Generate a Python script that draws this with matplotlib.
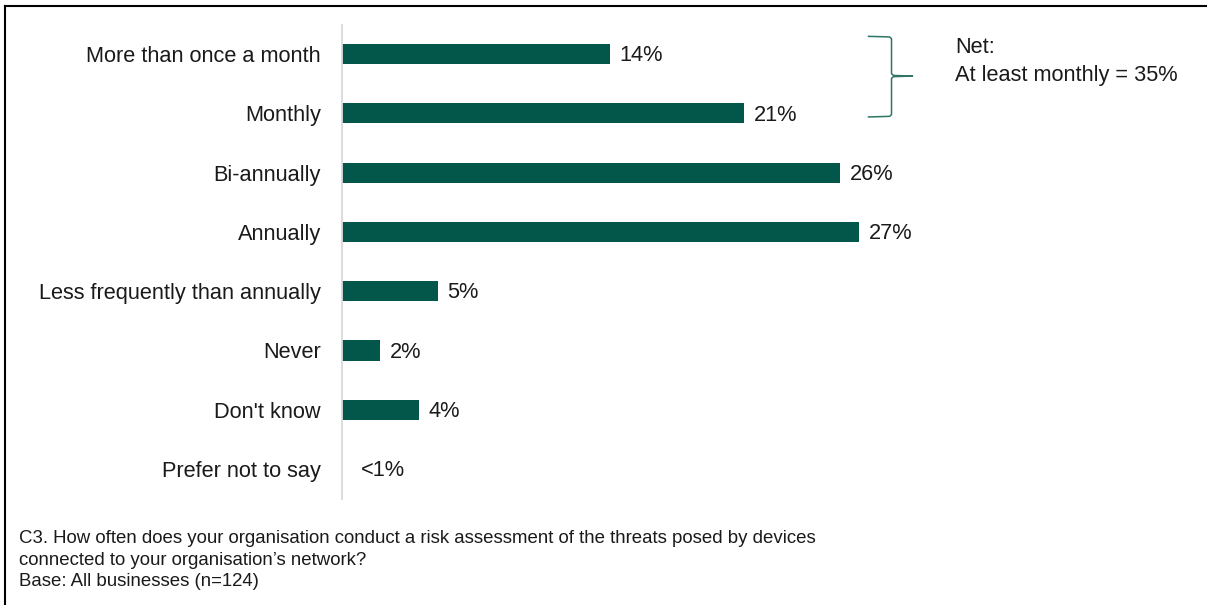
import matplotlib.pyplot as plt
from matplotlib.lines import Line2D

# data
categories = ["More than once a month", "Monthly", "Bi-annually", "Annually",
              "Less frequently than annually", "Never", "Don't know", "Prefer not to say"]
values = [14, 21, 26, 27, 5, 2, 4, 0]
value_labels = ["14%", "21%", "26%", "27%", "5%", "2%", "4%", "<1%"]
net_text = "Net:\nAt least monthly = 35%"
footnote = ("C3. How often does your organisation conduct a risk assessment of the threats posed by devices\n"
            "connected to your organisation\u2019s network?\n"
            "Base: All businesses (n=124)")

plt.rcParams['font.family'] = ['Liberation Sans', 'DejaVu Sans']
bar_color = "#03574A"

fig = plt.figure(figsize=(12.07, 6.05), dpi=100)
ax = fig.add_axes([0.2833, 0.1759, 0.6346, 0.7836])

y = list(range(len(categories)))
ax.barh(y, values, height=0.34, color=bar_color)
for yi, v, lab in zip(y, values, value_labels):
    x = max(v, 0.5)
    ax.text(x + 0.5, yi + 0.03, lab, va="center", ha="left", fontsize=15.7, color="#1a1a1a")

ax.set_xlim(0, 40)
ax.set_ylim(len(categories) - 0.5, -0.5)
ax.set_yticks(y)
ax.set_yticklabels(categories, fontsize=15.7, color="#1a1a1a")
ax.tick_params(axis="y", length=0, pad=15)
ax.set_xticks([])
for s in ["top", "right", "bottom"]:
    ax.spines[s].set_visible(False)
ax.spines["left"].set_color("#D9D9D9")
ax.spines["left"].set_linewidth(1.3)

# brace grouping the first two rows
bx0, bx1, bx2 = 27.5, 28.7, 29.8
ytop, ymid, ybot = -0.30, 0.37, 1.06
brace_x = [bx0, bx1 - 0.1, bx1, bx1, bx1 + 0.1, bx2, bx1 + 0.1, bx1, bx1, bx1 - 0.1, bx0]
brace_y = [ytop, ytop + 0.01, ytop + 0.04, ymid - 0.04, ymid - 0.01, ymid, ymid + 0.01,
           ymid + 0.04, ybot - 0.04, ybot - 0.01, ybot]
ax.plot(brace_x, brace_y, color="#2F7566", lw=1.1, clip_on=False)
ax.text(955 / 1207, 1 - 37 / 605, net_text, transform=fig.transFigure, ha="left", va="top",
        fontsize=15.7, color="#1a1a1a", linespacing=1.42)

fig.text(19 / 1207, 1 - 530 / 605, footnote, ha="left", va="top", fontsize=13.4,
         color="#1a1a1a", linespacing=1.36)

# frame (top and left edges visible)
fig.add_artist(Line2D([5 / 1207, 1.01], [1 - 6 / 605, 1 - 6 / 605], transform=fig.transFigure,
                      color="black", lw=1.5))
fig.add_artist(Line2D([5 / 1207, 5 / 1207], [1 - 6 / 605, -0.01], transform=fig.transFigure,
                      color="black", lw=1.5))

fig.savefig("out.png", dpi=100)
